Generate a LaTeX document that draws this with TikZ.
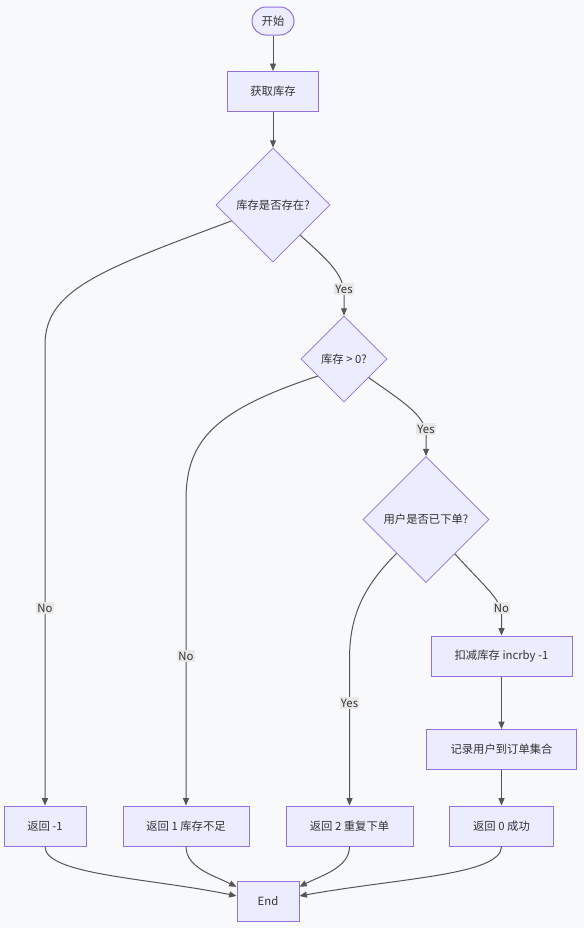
\documentclass[tikz,border=0pt]{standalone}
\usepackage{fontspec}
\setmainfont{Noto Sans CJK SC}
\usetikzlibrary{shapes.geometric,arrows.meta}
\definecolor{nodefill}{HTML}{ECECFF}
\definecolor{nodeline}{HTML}{9370DB}
\definecolor{edgeline}{HTML}{555555}
\definecolor{bgc}{HTML}{F8F9FA}
\definecolor{txt}{HTML}{333333}
\definecolor{lblbg}{HTML}{E8E8E8}
\begin{document}
\begin{tikzpicture}[x=0.75pt,y=-0.75pt,
 every node/.style={font=\fontsize{8.5}{10}\selectfont, text=txt},
 box/.style={draw=nodeline, fill=nodefill, line width=0.75pt, minimum height=30pt, inner sep=0pt},
 dia/.style={draw=nodeline, fill=nodefill, line width=0.6pt, diamond, aspect=1, inner sep=0pt},
 term/.style={draw=nodeline, fill=nodefill, line width=0.75pt, rounded corners=10.5pt, minimum width=31.5pt, minimum height=21pt, inner sep=0pt},
 conn/.style={draw=edgeline, line width=0.75pt, -{Triangle[length=5.5pt,width=4.5pt]}},
 lbl/.style={fill=lblbg, inner sep=1pt, text=txt}]
\fill[bgc] (0,0) rectangle (584,928);
\useasboundingbox (0,0) rectangle (584,928);

\node[term] (start) at (273,21) {开始};
\node[box, minimum width=68.25pt] (get) at (273,91.5) {获取库存};
\node[dia, minimum width=85.5pt, minimum height=85.5pt] (d1) at (273,205) {库存是否存在?};
\node[dia, minimum width=64.5pt, minimum height=64.5pt] (d2) at (344,359) {库存 > 0?};
\node[dia, minimum width=94.5pt, minimum height=94.5pt] (d3) at (426,519.5) {用户是否已下单?};
\node[box, minimum width=105.75pt] (dec) at (501.5,656) {扣减库存 incrby -1};
\node[box, minimum width=112.5pt] (rec) at (501.5,749.5) {记录用户到订单集合};
\node[box, minimum width=61.5pt] (r1) at (45,826) {返回 -1};
\node[box, minimum width=94.5pt] (r2) at (186,826) {返回 1 库存不足};
\node[box, minimum width=95.25pt] (r3) at (349.5,826) {返回 2 重复下单};
\node[box, minimum width=78pt] (r4) at (501.5,826) {返回 0 成功};
\node[box, minimum width=46.5pt] (end) at (268,901.5) {End};

\draw[conn] (start) -- (get);
\draw[conn] (get) -- (d1);
\draw[conn] (d1.201) .. controls (100,270) and (45,290) .. (45,345) -- (r1);
\draw[conn] (d1.312) .. controls (330,262) and (344,275) .. (344,295) -- (d2);
\draw[conn] (d2.213) .. controls (215,410) and (186,440) .. (186,500) -- (r2);
\draw[conn] (d2.323) .. controls (400,400) and (426,415) .. (426,435) -- (d3);
\draw[conn] (d3.229) .. controls (360,590) and (349.5,620) .. (349.5,660) -- (r3);
\draw[conn] (d3.310) .. controls (488,590) and (501.5,600) .. (501.5,615) -- (dec);
\draw[conn] (dec) -- (rec);
\draw[conn] (rec) -- (r4);
\draw[conn] (r1.south) .. controls (45,875) and (150,878) .. (end.170);
\draw[conn] (r2.south) .. controls (186,868) and (215,876) .. (end.155);
\draw[conn] (r3.south) .. controls (349.5,868) and (320,876) .. (end.25);
\draw[conn] (r4.south) .. controls (501.5,875) and (400,878) .. (end.10);

\node[lbl] (l1) at (45,608) {No};
\node[lbl] (l2) at (344,289) {Yes};
\node[lbl] (l3) at (186,656) {No};
\node[lbl] (l4) at (426,429) {Yes};
\node[lbl] (l5) at (349.5,703) {Yes};
\node[lbl] (l6) at (501.5,608) {No};
\end{tikzpicture}
\end{document}
